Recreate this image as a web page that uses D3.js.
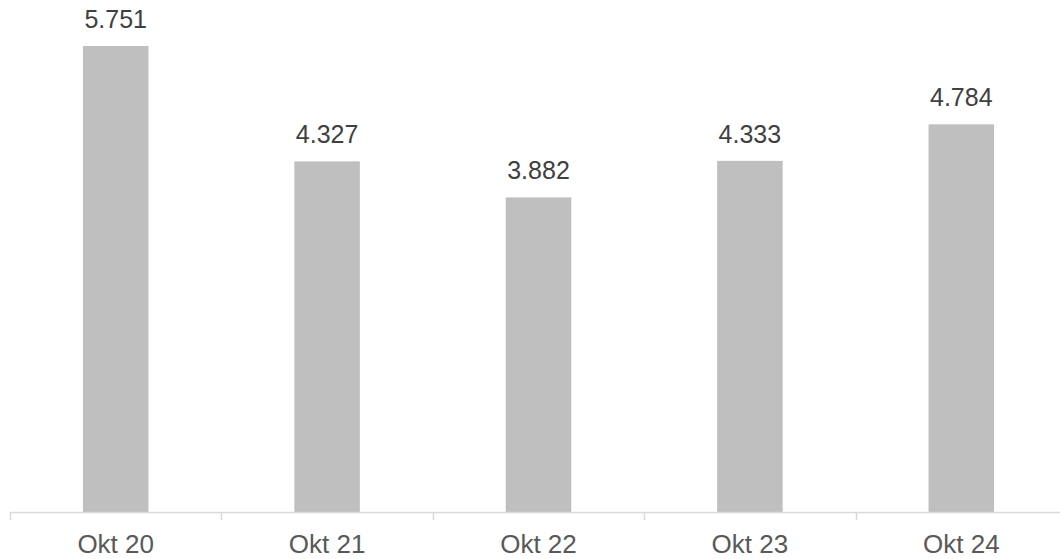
<!DOCTYPE html>
<html><head><meta charset="utf-8">
<script src="https://cdn.jsdelivr.net/npm/d3@7"></script>
<style>body{margin:0;background:#fff}svg{display:block}</style>
</head><body>
<svg id="c" width="1060" height="559"></svg>
<script>
const categories = ["Okt 20","Okt 21","Okt 22","Okt 23","Okt 24"];
const values = [5.751, 4.327, 3.882, 4.333, 4.784];
const valueLabels = ["5.751","4.327","3.882","4.333","4.784"];

const svg = d3.select("#c");
const font = "'Liberation Sans', Arial, sans-serif";
const x = d3.scaleBand().domain(categories).range([10, 1067]).paddingInner(0.69).paddingOuter(0.345);
const y = d3.scaleLinear().domain([0, 6]).range([512, 25.8]);

svg.selectAll("rect.bar").data(values).join("rect")
  .attr("class","bar")
  .attr("x",(d,i)=>x(categories[i]))
  .attr("width",x.bandwidth())
  .attr("y",d=>y(d))
  .attr("height",d=>y(0)-y(d))
  .attr("fill","#bfbfbf");

// axis
const step = x.step();
const g = svg.append("g");
g.append("line").attr("x1",10).attr("x2",1067).attr("y1",512.5).attr("y2",512.5)
  .attr("stroke","#d9d9d9").attr("stroke-width",1.5);
const tickPos = d3.range(categories.length+1).map(i=>10+i*step);
g.selectAll("line.tick").data(tickPos).join("line").attr("class","tick")
  .attr("x1",d=>Math.round(d)+0.5).attr("x2",d=>Math.round(d)+0.5)
  .attr("y1",512).attr("y2",520).attr("stroke","#d9d9d9").attr("stroke-width",1.5);
g.selectAll("text.xl").data(categories).join("text").attr("class","xl")
  .attr("x",d=>x(d)+x.bandwidth()/2).attr("y",552.5)
  .attr("text-anchor","middle").attr("font-family",font).attr("font-size",26)
  .attr("fill","#595959").text(d=>d);

svg.selectAll("text.vl").data(values).join("text").attr("class","vl")
  .attr("x",(d,i)=>x(categories[i])+x.bandwidth()/2)
  .attr("y",d=>y(d)-18)
  .attr("text-anchor","middle").attr("font-family",font).attr("font-size",25)
  .attr("fill","#404040").text((d,i)=>valueLabels[i]);
</script>
</body></html>
